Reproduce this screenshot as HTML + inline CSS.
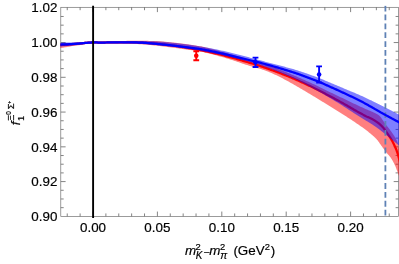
<!DOCTYPE html>
<html><head><meta charset="utf-8"><title>plot</title>
<style>
html,body{margin:0;padding:0;background:#fff;}
body{width:399px;height:264px;overflow:hidden;position:relative;font-family:"Liberation Sans",sans-serif;}
</style></head>
<body>
<svg width="399" height="264" viewBox="0 0 399 264" style="position:absolute;left:0;top:0;display:block;will-change:transform" font-family="'Liberation Sans', sans-serif" font-size="13.4" fill="#000">
<style>text{stroke:#000;stroke-width:0.18px;stroke-linejoin:round}</style>
<defs><clipPath id="pc"><rect x="60.4" y="5.4" width="338.59999999999997" height="212.6"/></clipPath></defs>
<rect width="399" height="264" fill="#fff"/>
<path d="M67.24,216.35v-2.90M67.24,7.30v2.90M80.12,216.35v-2.90M80.12,7.30v2.90M93.00,216.35v-4.80M93.00,7.30v4.80M105.88,216.35v-2.90M105.88,7.30v2.90M118.76,216.35v-2.90M118.76,7.30v2.90M131.64,216.35v-2.90M131.64,7.30v2.90M144.52,216.35v-2.90M144.52,7.30v2.90M157.40,216.35v-4.80M157.40,7.30v4.80M170.28,216.35v-2.90M170.28,7.30v2.90M183.16,216.35v-2.90M183.16,7.30v2.90M196.04,216.35v-2.90M196.04,7.30v2.90M208.92,216.35v-2.90M208.92,7.30v2.90M221.80,216.35v-4.80M221.80,7.30v4.80M234.68,216.35v-2.90M234.68,7.30v2.90M247.56,216.35v-2.90M247.56,7.30v2.90M260.44,216.35v-2.90M260.44,7.30v2.90M273.32,216.35v-2.90M273.32,7.30v2.90M286.20,216.35v-4.80M286.20,7.30v4.80M299.08,216.35v-2.90M299.08,7.30v2.90M311.96,216.35v-2.90M311.96,7.30v2.90M324.84,216.35v-2.90M324.84,7.30v2.90M337.72,216.35v-2.90M337.72,7.30v2.90M350.60,216.35v-4.80M350.60,7.30v4.80M363.48,216.35v-2.90M363.48,7.30v2.90M376.36,216.35v-2.90M376.36,7.30v2.90M389.24,216.35v-2.90M389.24,7.30v2.90M60.80,207.66h2.90M398.50,207.66h-2.90M60.80,198.97h2.90M398.50,198.97h-2.90M60.80,190.28h2.90M398.50,190.28h-2.90M60.80,181.59h4.80M398.50,181.59h-4.80M60.80,172.90h2.90M398.50,172.90h-2.90M60.80,164.21h2.90M398.50,164.21h-2.90M60.80,155.52h2.90M398.50,155.52h-2.90M60.80,146.83h4.80M398.50,146.83h-4.80M60.80,138.14h2.90M398.50,138.14h-2.90M60.80,129.45h2.90M398.50,129.45h-2.90M60.80,120.76h2.90M398.50,120.76h-2.90M60.80,112.07h4.80M398.50,112.07h-4.80M60.80,103.38h2.90M398.50,103.38h-2.90M60.80,94.69h2.90M398.50,94.69h-2.90M60.80,86.00h2.90M398.50,86.00h-2.90M60.80,77.31h4.80M398.50,77.31h-4.80M60.80,68.62h2.90M398.50,68.62h-2.90M60.80,59.93h2.90M398.50,59.93h-2.90M60.80,51.24h2.90M398.50,51.24h-2.90M60.80,42.55h4.80M398.50,42.55h-4.80M60.80,33.86h2.90M398.50,33.86h-2.90M60.80,25.17h2.90M398.50,25.17h-2.90M60.80,16.48h2.90M398.50,16.48h-2.90" stroke="#5c5c5c" stroke-width="0.75" fill="none"/>
<rect x="60.8" y="7.3" width="337.7" height="209.04999999999998" fill="none" stroke="#666" stroke-width="0.65"/>
<g clip-path="url(#pc)">
<path d="M58.00,43.58 L59.00,43.50 L60.00,43.43 L61.00,43.36 L62.00,43.29 L63.00,43.24 L64.00,43.20 L65.00,43.17 L66.00,43.14 L67.00,43.11 L68.00,43.08 L69.00,43.03 L70.00,42.98 L71.00,42.92 L72.00,42.85 L73.00,42.79 L74.00,42.73 L75.00,42.67 L76.00,42.61 L77.00,42.55 L78.00,42.49 L79.00,42.42 L80.00,42.34 L81.00,42.24 L82.00,42.14 L83.00,42.04 L84.00,41.94 L85.00,41.85 L86.00,41.76 L87.00,41.69 L88.00,41.61 L89.00,41.54 L90.00,41.47 L91.00,41.41 L92.00,41.36 L93.00,41.32 L94.00,41.30 L95.00,41.30 L96.00,41.33 L97.00,41.37 L98.00,41.40 L99.00,41.42 L100.00,41.42 L101.00,41.41 L102.00,41.39 L103.00,41.38 L104.00,41.36 L105.00,41.35 L106.00,41.33 L107.00,41.32 L108.00,41.30 L109.00,41.28 L110.00,41.27 L111.00,41.25 L112.00,41.22 L113.00,41.19 L114.00,41.17 L115.00,41.14 L116.00,41.11 L117.00,41.08 L118.00,41.05 L119.00,41.02 L120.00,41.00 L121.00,40.97 L122.00,40.95 L123.00,40.93 L124.00,40.91 L125.00,40.89 L126.00,40.88 L127.00,40.86 L128.00,40.84 L129.00,40.83 L130.00,40.82 L131.00,40.80 L132.00,40.79 L133.00,40.79 L134.00,40.78 L135.00,40.78 L136.00,40.78 L137.00,40.78 L138.00,40.78 L139.00,40.78 L140.00,40.79 L141.00,40.79 L142.00,40.80 L143.00,40.81 L144.00,40.81 L145.00,40.82 L146.00,40.84 L147.00,40.85 L148.00,40.86 L149.00,40.88 L150.00,40.89 L151.00,40.91 L152.00,40.94 L153.00,40.96 L154.00,40.99 L155.00,41.02 L156.00,41.06 L157.00,41.11 L158.00,41.16 L159.00,41.21 L160.00,41.28 L161.00,41.35 L162.00,41.43 L163.00,41.51 L164.00,41.60 L165.00,41.69 L166.00,41.79 L167.00,41.89 L168.00,41.98 L169.00,42.08 L170.00,42.19 L171.00,42.29 L172.00,42.40 L173.00,42.51 L174.00,42.62 L175.00,42.73 L176.00,42.84 L177.00,42.96 L178.00,43.08 L179.00,43.20 L180.00,43.32 L181.00,43.44 L182.00,43.57 L183.00,43.70 L184.00,43.83 L185.00,43.96 L186.00,44.10 L187.00,44.24 L188.00,44.37 L189.00,44.52 L190.00,44.66 L191.00,44.80 L192.00,44.95 L193.00,45.10 L194.00,45.25 L195.00,45.40 L196.00,45.56 L197.00,45.72 L198.00,45.88 L199.00,46.04 L200.00,46.20 L201.00,46.37 L202.00,46.56 L203.00,46.75 L204.00,46.96 L205.00,47.18 L206.00,47.40 L207.00,47.64 L208.00,47.88 L209.00,48.13 L210.00,48.39 L211.00,48.65 L212.00,48.92 L213.00,49.19 L214.00,49.46 L215.00,49.74 L216.00,50.02 L217.00,50.29 L218.00,50.57 L219.00,50.85 L220.00,51.13 L221.00,51.40 L222.00,51.67 L223.00,51.94 L224.00,52.22 L225.00,52.50 L226.00,52.78 L227.00,53.06 L228.00,53.35 L229.00,53.64 L230.00,53.93 L231.00,54.22 L232.00,54.51 L233.00,54.81 L234.00,55.10 L235.00,55.39 L236.00,55.68 L237.00,55.97 L238.00,56.25 L239.00,56.54 L240.00,56.82 L241.00,57.11 L242.00,57.40 L243.00,57.70 L244.00,58.00 L245.00,58.31 L246.00,58.61 L247.00,58.89 L248.00,59.16 L249.00,59.42 L250.00,59.67 L251.00,59.91 L252.00,60.15 L253.00,60.39 L254.00,60.63 L255.00,60.88 L256.00,61.13 L257.00,61.38 L258.00,61.64 L259.00,61.91 L260.00,62.18 L261.00,62.47 L262.00,62.77 L263.00,63.07 L264.00,63.39 L265.00,63.73 L266.00,64.08 L267.00,64.44 L268.00,64.82 L269.00,65.21 L270.00,65.60 L271.00,66.00 L272.00,66.40 L273.00,66.80 L274.00,67.20 L275.00,67.60 L276.00,68.01 L277.00,68.41 L278.00,68.82 L279.00,69.23 L280.00,69.63 L281.00,70.04 L282.00,70.46 L283.00,70.87 L284.00,71.28 L285.00,71.70 L286.00,72.11 L287.00,72.53 L288.00,72.95 L289.00,73.37 L290.00,73.79 L291.00,74.21 L292.00,74.64 L293.00,75.06 L294.00,75.49 L295.00,75.92 L296.00,76.35 L297.00,76.78 L298.00,77.21 L299.00,77.64 L300.00,78.08 L301.00,78.52 L302.00,78.95 L303.00,79.40 L304.00,79.84 L305.00,80.28 L306.00,80.73 L307.00,81.17 L308.00,81.62 L309.00,82.07 L310.00,82.53 L311.00,82.98 L312.00,83.43 L313.00,83.89 L314.00,84.35 L315.00,84.81 L316.00,85.27 L317.00,85.73 L318.00,86.20 L319.00,86.68 L320.00,87.17 L321.00,87.67 L322.00,88.17 L323.00,88.68 L324.00,89.19 L325.00,89.69 L326.00,90.20 L327.00,90.70 L328.00,91.19 L329.00,91.68 L330.00,92.16 L331.00,92.63 L332.00,93.10 L333.00,93.57 L334.00,94.05 L335.00,94.52 L336.00,95.00 L337.00,95.47 L338.00,95.95 L339.00,96.43 L340.00,96.91 L341.00,97.38 L342.00,97.86 L343.00,98.34 L344.00,98.83 L345.00,99.31 L346.00,99.79 L347.00,100.27 L348.00,100.76 L349.00,101.24 L350.00,101.73 L351.00,102.22 L352.00,102.69 L353.00,103.17 L354.00,103.64 L355.00,104.11 L356.00,104.58 L357.00,105.04 L358.00,105.50 L359.00,105.96 L360.00,106.42 L361.00,106.88 L362.00,107.33 L363.00,107.79 L364.00,108.25 L365.00,108.71 L366.00,109.16 L367.00,109.60 L368.00,110.02 L369.00,110.44 L370.00,110.86 L371.00,111.28 L372.00,111.70 L372.20,111.79 L372.40,111.87 L372.60,111.96 L372.80,112.05 L373.00,112.14 L373.20,112.23 L373.40,112.32 L373.60,112.41 L373.80,112.50 L374.00,112.59 L374.20,112.68 L374.40,112.77 L374.60,112.87 L374.80,112.96 L375.00,113.06 L375.20,113.16 L375.40,113.25 L375.60,113.35 L375.80,113.45 L376.00,113.55 L376.20,113.66 L376.40,113.76 L376.60,113.88 L376.80,113.99 L377.00,114.11 L377.20,114.23 L377.40,114.35 L377.60,114.47 L377.80,114.59 L378.00,114.72 L378.20,114.85 L378.40,114.98 L378.60,115.11 L378.80,115.25 L379.00,115.39 L379.20,115.56 L379.40,115.74 L379.60,115.93 L379.80,116.13 L380.00,116.33 L380.20,116.55 L380.40,116.77 L380.60,116.99 L380.80,117.23 L381.00,117.49 L381.20,117.78 L381.40,118.08 L381.60,118.40 L381.80,118.72 L382.00,119.04 L382.20,119.35 L382.40,119.66 L382.60,119.95 L382.80,120.24 L383.00,120.53 L383.20,120.82 L383.40,121.10 L383.60,121.39 L383.80,121.67 L384.00,121.96 L384.20,122.24 L384.40,122.52 L384.60,122.80 L384.80,123.08 L385.00,123.35 L385.20,123.62 L385.40,123.89 L385.60,124.16 L385.80,124.43 L386.00,124.69 L386.20,124.95 L386.40,125.21 L386.60,125.47 L386.80,125.73 L387.00,125.98 L387.20,126.24 L387.40,126.50 L387.60,126.75 L387.80,127.01 L388.00,127.26 L388.20,127.52 L388.40,127.78 L388.60,128.03 L388.80,128.29 L389.00,128.55 L389.20,128.82 L389.40,129.08 L389.60,129.34 L389.80,129.61 L390.00,129.88 L390.20,130.15 L390.40,130.43 L390.60,130.70 L390.80,130.98 L391.00,131.26 L391.20,131.54 L391.40,131.82 L391.60,132.09 L391.80,132.37 L392.00,132.64 L392.20,132.92 L392.40,133.20 L392.60,133.48 L392.80,133.76 L393.00,134.05 L393.20,134.34 L393.40,134.63 L393.60,134.93 L393.80,135.23 L394.00,135.54 L394.20,135.86 L394.40,136.18 L394.60,136.50 L394.80,136.84 L395.00,137.18 L395.20,137.54 L395.40,137.90 L395.60,138.27 L395.80,138.63 L396.00,139.00 L396.20,139.38 L396.40,139.77 L396.60,140.17 L396.80,140.60 L397.00,141.05 L397.20,141.54 L397.40,142.05 L397.60,142.61 L397.80,143.22 L398.00,143.87 L398.20,144.58 L398.40,145.66 L398.60,147.08 L398.80,148.31 L399.00,149.26 L399.20,150.20 L399.40,151.13 L399.60,152.04 L399.80,152.93 L400.00,153.78 L400.20,154.60 L400.40,155.39 L400.60,156.13 L400.80,156.82 L401.00,157.46 L401.20,158.04 L401.40,158.56 L401.60,159.01 L401.80,159.39 L402.00,159.70 L402.00,186.33 L401.80,185.56 L401.60,184.80 L401.40,184.05 L401.20,183.31 L401.00,182.58 L400.80,181.87 L400.60,181.16 L400.40,180.47 L400.20,179.79 L400.00,179.11 L399.80,178.46 L399.60,177.81 L399.40,177.17 L399.20,176.54 L399.00,175.93 L398.80,175.32 L398.60,174.73 L398.40,174.15 L398.20,173.58 L398.00,173.03 L397.80,172.49 L397.60,171.97 L397.40,171.44 L397.20,170.93 L397.00,170.42 L396.80,169.91 L396.60,169.40 L396.40,168.88 L396.20,168.36 L396.00,167.85 L395.80,167.34 L395.60,166.83 L395.40,166.35 L395.20,165.87 L395.00,165.42 L394.80,164.99 L394.60,164.57 L394.40,164.16 L394.20,163.75 L394.00,163.34 L393.80,162.94 L393.60,162.55 L393.40,162.16 L393.20,161.77 L393.00,161.40 L392.80,161.02 L392.60,160.66 L392.40,160.31 L392.20,159.96 L392.00,159.63 L391.80,159.30 L391.60,158.98 L391.40,158.67 L391.20,158.38 L391.00,158.09 L390.80,157.82 L390.60,157.55 L390.40,157.28 L390.20,157.03 L390.00,156.77 L389.80,156.52 L389.60,156.28 L389.40,156.04 L389.20,155.80 L389.00,155.57 L388.80,155.33 L388.60,155.10 L388.40,154.87 L388.20,154.64 L388.00,154.41 L387.80,154.18 L387.60,153.95 L387.40,153.72 L387.20,153.48 L387.00,153.25 L386.80,153.01 L386.60,152.77 L386.40,152.53 L386.20,152.28 L386.00,152.03 L385.80,151.77 L385.60,151.51 L385.40,151.25 L385.20,150.98 L385.00,150.72 L384.80,150.45 L384.60,150.17 L384.40,149.90 L384.20,149.63 L384.00,149.35 L383.80,149.07 L383.60,148.80 L383.40,148.52 L383.20,148.24 L383.00,147.96 L382.80,147.68 L382.60,147.40 L382.40,147.12 L382.20,146.84 L382.00,146.56 L381.80,146.28 L381.60,146.01 L381.40,145.73 L381.20,145.46 L381.00,145.18 L380.80,144.91 L380.60,144.62 L380.40,144.34 L380.20,144.05 L380.00,143.76 L379.80,143.47 L379.60,143.17 L379.40,142.88 L379.20,142.59 L379.00,142.30 L378.80,142.01 L378.60,141.72 L378.40,141.44 L378.20,141.17 L378.00,140.90 L377.80,140.63 L377.60,140.37 L377.40,140.12 L377.20,139.88 L377.00,139.65 L376.80,139.43 L376.60,139.22 L376.40,139.01 L376.20,138.81 L376.00,138.61 L375.80,138.41 L375.60,138.20 L375.40,138.00 L375.20,137.81 L375.00,137.61 L374.80,137.41 L374.60,137.22 L374.40,137.03 L374.20,136.84 L374.00,136.65 L373.80,136.46 L373.60,136.28 L373.40,136.09 L373.20,135.92 L373.00,135.74 L372.80,135.56 L372.60,135.39 L372.40,135.22 L372.20,135.06 L372.00,134.89 L371.00,134.08 L370.00,133.26 L369.00,132.44 L368.00,131.62 L367.00,130.83 L366.00,130.05 L365.00,129.29 L364.00,128.56 L363.00,127.83 L362.00,127.12 L361.00,126.41 L360.00,125.71 L359.00,125.01 L358.00,124.32 L357.00,123.63 L356.00,122.95 L355.00,122.27 L354.00,121.60 L353.00,120.93 L352.00,120.27 L351.00,119.60 L350.00,118.95 L349.00,118.29 L348.00,117.64 L347.00,117.00 L346.00,116.35 L345.00,115.71 L344.00,115.07 L343.00,114.43 L342.00,113.80 L341.00,113.17 L340.00,112.53 L339.00,111.91 L338.00,111.28 L337.00,110.65 L336.00,110.03 L335.00,109.40 L334.00,108.78 L333.00,108.16 L332.00,107.54 L331.00,106.92 L330.00,106.31 L329.00,105.69 L328.00,105.07 L327.00,104.46 L326.00,103.84 L325.00,103.23 L324.00,102.61 L323.00,102.00 L322.00,101.39 L321.00,100.78 L320.00,100.17 L319.00,99.56 L318.00,98.95 L317.00,98.34 L316.00,97.73 L315.00,97.12 L314.00,96.51 L313.00,95.91 L312.00,95.30 L311.00,94.70 L310.00,94.09 L309.00,93.49 L308.00,92.89 L307.00,92.29 L306.00,91.69 L305.00,91.09 L304.00,90.50 L303.00,89.90 L302.00,89.31 L301.00,88.72 L300.00,88.13 L299.00,87.55 L298.00,86.96 L297.00,86.38 L296.00,85.80 L295.00,85.23 L294.00,84.65 L293.00,84.08 L292.00,83.52 L291.00,82.96 L290.00,82.40 L289.00,81.84 L288.00,81.29 L287.00,80.75 L286.00,80.21 L285.00,79.67 L284.00,79.14 L283.00,78.61 L282.00,78.09 L281.00,77.58 L280.00,77.07 L279.00,76.57 L278.00,76.08 L277.00,75.59 L276.00,75.11 L275.00,74.64 L274.00,74.18 L273.00,73.73 L272.00,73.28 L271.00,72.84 L270.00,72.42 L269.00,72.00 L268.00,71.59 L267.00,71.19 L266.00,70.81 L265.00,70.43 L264.00,70.07 L263.00,69.72 L262.00,69.38 L261.00,69.06 L260.00,68.76 L259.00,68.46 L258.00,68.18 L257.00,67.90 L256.00,67.63 L255.00,67.36 L254.00,67.09 L253.00,66.81 L252.00,66.52 L251.00,66.23 L250.00,65.94 L249.00,65.65 L248.00,65.36 L247.00,65.05 L246.00,64.73 L245.00,64.40 L244.00,64.06 L243.00,63.72 L242.00,63.38 L241.00,63.04 L240.00,62.70 L239.00,62.37 L238.00,62.03 L237.00,61.69 L236.00,61.36 L235.00,61.03 L234.00,60.70 L233.00,60.37 L232.00,60.05 L231.00,59.73 L230.00,59.41 L229.00,59.09 L228.00,58.78 L227.00,58.47 L226.00,58.17 L225.00,57.87 L224.00,57.58 L223.00,57.29 L222.00,57.00 L221.00,56.72 L220.00,56.44 L219.00,56.16 L218.00,55.89 L217.00,55.62 L216.00,55.35 L215.00,55.08 L214.00,54.81 L213.00,54.54 L212.00,54.27 L211.00,54.00 L210.00,53.73 L209.00,53.47 L208.00,53.21 L207.00,52.96 L206.00,52.71 L205.00,52.47 L204.00,52.24 L203.00,52.02 L202.00,51.81 L201.00,51.61 L200.00,51.42 L199.00,51.23 L198.00,51.06 L197.00,50.90 L196.00,50.75 L195.00,50.61 L194.00,50.48 L193.00,50.36 L192.00,50.24 L191.00,50.12 L190.00,50.01 L189.00,49.89 L188.00,49.77 L187.00,49.64 L186.00,49.51 L185.00,49.36 L184.00,49.21 L183.00,49.06 L182.00,48.92 L181.00,48.77 L180.00,48.63 L179.00,48.49 L178.00,48.35 L177.00,48.21 L176.00,48.07 L175.00,47.93 L174.00,47.80 L173.00,47.67 L172.00,47.54 L171.00,47.41 L170.00,47.28 L169.00,47.16 L168.00,47.03 L167.00,46.91 L166.00,46.78 L165.00,46.66 L164.00,46.54 L163.00,46.42 L162.00,46.30 L161.00,46.19 L160.00,46.07 L159.00,45.96 L158.00,45.84 L157.00,45.73 L156.00,45.62 L155.00,45.51 L154.00,45.41 L153.00,45.30 L152.00,45.20 L151.00,45.10 L150.00,45.00 L149.00,44.91 L148.00,44.81 L147.00,44.72 L146.00,44.63 L145.00,44.55 L144.00,44.46 L143.00,44.39 L142.00,44.32 L141.00,44.25 L140.00,44.19 L139.00,44.13 L138.00,44.07 L137.00,44.01 L136.00,43.96 L135.00,43.90 L134.00,43.84 L133.00,43.79 L132.00,43.74 L131.00,43.70 L130.00,43.65 L129.00,43.61 L128.00,43.58 L127.00,43.55 L126.00,43.52 L125.00,43.49 L124.00,43.47 L123.00,43.45 L122.00,43.44 L121.00,43.43 L120.00,43.43 L119.00,43.44 L118.00,43.45 L117.00,43.47 L116.00,43.48 L115.00,43.50 L114.00,43.52 L113.00,43.54 L112.00,43.55 L111.00,43.56 L110.00,43.57 L109.00,43.58 L108.00,43.59 L107.00,43.59 L106.00,43.60 L105.00,43.61 L104.00,43.61 L103.00,43.62 L102.00,43.63 L101.00,43.63 L100.00,43.64 L99.00,43.64 L98.00,43.61 L97.00,43.57 L96.00,43.53 L95.00,43.51 L94.00,43.50 L93.00,43.52 L92.00,43.56 L91.00,43.63 L90.00,43.70 L89.00,43.79 L88.00,43.89 L87.00,44.00 L86.00,44.11 L85.00,44.24 L84.00,44.37 L83.00,44.52 L82.00,44.68 L81.00,44.84 L80.00,44.99 L79.00,45.13 L78.00,45.26 L77.00,45.38 L76.00,45.51 L75.00,45.63 L74.00,45.76 L73.00,45.92 L72.00,46.08 L71.00,46.27 L70.00,46.46 L69.00,46.65 L68.00,46.83 L67.00,47.00 L66.00,47.17 L65.00,47.33 L64.00,47.49 L63.00,47.65 L62.00,47.81 L61.00,47.96 L60.00,48.10 L59.00,48.24 L58.00,48.38Z" fill="#ff0000" fill-opacity="0.5"/>
<path d="M58.00,45.18 L59.00,45.10 L60.00,45.03 L61.00,44.96 L62.00,44.89 L63.00,44.83 L64.00,44.77 L65.00,44.71 L66.00,44.66 L67.00,44.60 L68.00,44.53 L69.00,44.46 L70.00,44.37 L71.00,44.27 L72.00,44.18 L73.00,44.09 L74.00,44.01 L75.00,43.93 L76.00,43.86 L77.00,43.78 L78.00,43.71 L79.00,43.63 L80.00,43.53 L81.00,43.43 L82.00,43.31 L83.00,43.20 L84.00,43.09 L85.00,42.99 L86.00,42.89 L87.00,42.81 L88.00,42.73 L89.00,42.65 L90.00,42.58 L91.00,42.52 L92.00,42.46 L93.00,42.42 L94.00,42.40 L95.00,42.41 L96.00,42.43 L97.00,42.47 L98.00,42.51 L99.00,42.54 L100.00,42.54 L101.00,42.53 L102.00,42.53 L103.00,42.52 L104.00,42.51 L105.00,42.51 L106.00,42.50 L107.00,42.49 L108.00,42.49 L109.00,42.48 L110.00,42.47 L111.00,42.46 L112.00,42.45 L113.00,42.44 L114.00,42.42 L115.00,42.40 L116.00,42.38 L117.00,42.37 L118.00,42.35 L119.00,42.33 L120.00,42.32 L121.00,42.31 L122.00,42.31 L123.00,42.31 L124.00,42.31 L125.00,42.31 L126.00,42.31 L127.00,42.32 L128.00,42.33 L129.00,42.34 L130.00,42.35 L131.00,42.36 L132.00,42.38 L133.00,42.40 L134.00,42.42 L135.00,42.44 L136.00,42.47 L137.00,42.49 L138.00,42.52 L139.00,42.55 L140.00,42.59 L141.00,42.62 L142.00,42.66 L143.00,42.71 L144.00,42.76 L145.00,42.81 L146.00,42.87 L147.00,42.94 L148.00,43.00 L149.00,43.07 L150.00,43.14 L151.00,43.21 L152.00,43.28 L153.00,43.36 L154.00,43.44 L155.00,43.53 L156.00,43.61 L157.00,43.70 L158.00,43.80 L159.00,43.89 L160.00,43.99 L161.00,44.09 L162.00,44.20 L163.00,44.31 L164.00,44.42 L165.00,44.53 L166.00,44.65 L167.00,44.77 L168.00,44.89 L169.00,45.01 L170.00,45.14 L171.00,45.27 L172.00,45.41 L173.00,45.54 L174.00,45.68 L175.00,45.82 L176.00,45.97 L177.00,46.11 L178.00,46.26 L179.00,46.42 L180.00,46.57 L181.00,46.73 L182.00,46.89 L183.00,47.05 L184.00,47.21 L185.00,47.38 L186.00,47.55 L187.00,47.71 L188.00,47.89 L189.00,48.06 L190.00,48.24 L191.00,48.41 L192.00,48.60 L193.00,48.78 L194.00,48.96 L195.00,49.15 L196.00,49.34 L197.00,49.52 L198.00,49.71 L199.00,49.90 L200.00,50.09 L201.00,50.28 L202.00,50.48 L203.00,50.68 L204.00,50.88 L205.00,51.08 L206.00,51.29 L207.00,51.50 L208.00,51.72 L209.00,51.93 L210.00,52.15 L211.00,52.38 L212.00,52.60 L213.00,52.83 L214.00,53.06 L215.00,53.30 L216.00,53.54 L217.00,53.78 L218.00,54.02 L219.00,54.27 L220.00,54.51 L221.00,54.77 L222.00,55.02 L223.00,55.27 L224.00,55.53 L225.00,55.79 L226.00,56.05 L227.00,56.32 L228.00,56.58 L229.00,56.85 L230.00,57.12 L231.00,57.40 L232.00,57.67 L233.00,57.95 L234.00,58.23 L235.00,58.51 L236.00,58.79 L237.00,59.07 L238.00,59.36 L239.00,59.64 L240.00,59.93 L241.00,60.22 L242.00,60.51 L243.00,60.81 L244.00,61.10 L245.00,61.40 L246.00,61.69 L247.00,61.99 L248.00,62.29 L249.00,62.59 L250.00,62.89 L251.00,63.19 L252.00,63.49 L253.00,63.80 L254.00,64.11 L255.00,64.42 L256.00,64.73 L257.00,65.05 L258.00,65.37 L259.00,65.69 L260.00,66.02 L261.00,66.35 L262.00,66.68 L263.00,67.02 L264.00,67.36 L265.00,67.71 L266.00,68.06 L267.00,68.40 L268.00,68.76 L269.00,69.11 L270.00,69.47 L271.00,69.83 L272.00,70.19 L273.00,70.55 L274.00,70.92 L275.00,71.29 L276.00,71.66 L277.00,72.03 L278.00,72.41 L279.00,72.79 L280.00,73.17 L281.00,73.56 L282.00,73.94 L283.00,74.33 L284.00,74.72 L285.00,75.12 L286.00,75.52 L287.00,75.92 L288.00,76.32 L289.00,76.73 L290.00,77.15 L291.00,77.56 L292.00,77.99 L293.00,78.41 L294.00,78.84 L295.00,79.27 L296.00,79.71 L297.00,80.14 L298.00,80.58 L299.00,81.03 L300.00,81.47 L301.00,81.92 L302.00,82.38 L303.00,82.83 L304.00,83.29 L305.00,83.75 L306.00,84.21 L307.00,84.68 L308.00,85.15 L309.00,85.62 L310.00,86.10 L311.00,86.58 L312.00,87.07 L313.00,87.56 L314.00,88.05 L315.00,88.55 L316.00,89.04 L317.00,89.54 L318.00,90.05 L319.00,90.55 L320.00,91.06 L321.00,91.57 L322.00,92.08 L323.00,92.59 L324.00,93.11 L325.00,93.62 L326.00,94.14 L327.00,94.66 L328.00,95.18 L329.00,95.71 L330.00,96.23 L331.00,96.76 L332.00,97.29 L333.00,97.83 L334.00,98.36 L335.00,98.90 L336.00,99.44 L337.00,99.99 L338.00,100.53 L339.00,101.08 L340.00,101.64 L341.00,102.19 L342.00,102.75 L343.00,103.31 L344.00,103.87 L345.00,104.44 L346.00,105.01 L347.00,105.58 L348.00,106.16 L349.00,106.74 L350.00,107.33 L351.00,107.91 L352.00,108.50 L353.00,109.08 L354.00,109.67 L355.00,110.24 L356.00,110.81 L357.00,111.37 L358.00,111.92 L359.00,112.47 L360.00,113.02 L361.00,113.56 L362.00,114.10 L363.00,114.63 L364.00,115.17 L365.00,115.70 L366.00,116.21 L367.00,116.67 L368.00,117.10 L369.00,117.52 L370.00,117.95 L371.00,118.42 L372.00,118.94 L372.20,119.05 L372.40,119.16 L372.60,119.28 L372.80,119.39 L373.00,119.51 L373.20,119.63 L373.40,119.74 L373.60,119.87 L373.80,119.99 L374.00,120.11 L374.20,120.23 L374.40,120.36 L374.60,120.48 L374.80,120.61 L375.00,120.74 L375.20,120.87 L375.40,121.00 L375.60,121.13 L375.80,121.27 L376.00,121.40 L376.20,121.54 L376.40,121.67 L376.60,121.81 L376.80,121.95 L377.00,122.09 L377.20,122.23 L377.40,122.37 L377.60,122.51 L377.80,122.65 L378.00,122.80 L378.20,122.94 L378.40,123.10 L378.60,123.25 L378.80,123.41 L379.00,123.57 L379.20,123.73 L379.40,123.90 L379.60,124.07 L379.80,124.25 L380.00,124.43 L380.20,124.61 L380.40,124.79 L380.60,124.98 L380.80,125.17 L381.00,125.36 L381.20,125.55 L381.40,125.75 L381.60,125.95 L381.80,126.15 L382.00,126.35 L382.20,126.55 L382.40,126.76 L382.60,126.97 L382.80,127.18 L383.00,127.41 L383.20,127.65 L383.40,127.89 L383.60,128.15 L383.80,128.41 L384.00,128.68 L384.20,128.95 L384.40,129.23 L384.60,129.51 L384.80,129.79 L385.00,130.07 L385.20,130.35 L385.40,130.62 L385.60,130.90 L385.80,131.18 L386.00,131.46 L386.20,131.75 L386.40,132.03 L386.60,132.32 L386.80,132.61 L387.00,132.91 L387.20,133.20 L387.40,133.50 L387.60,133.79 L387.80,134.09 L388.00,134.39 L388.20,134.69 L388.40,134.99 L388.60,135.29 L388.80,135.59 L389.00,135.89 L389.20,136.19 L389.40,136.48 L389.60,136.78 L389.80,137.08 L390.00,137.38 L390.20,137.68 L390.40,137.99 L390.60,138.29 L390.80,138.61 L391.00,138.92 L391.20,139.25 L391.40,139.58 L391.60,139.91 L391.80,140.26 L392.00,140.61 L392.20,140.97 L392.40,141.34 L392.60,141.71 L392.80,142.10 L393.00,142.49 L393.20,142.88 L393.40,143.28 L393.60,143.69 L393.80,144.10 L394.00,144.52 L394.20,144.94 L394.40,145.36 L394.60,145.79 L394.80,146.22 L395.00,146.66 L395.20,147.10 L395.40,147.55 L395.60,148.00 L395.80,148.47 L396.00,148.95 L396.20,149.44 L396.40,149.95 L396.60,150.48 L396.80,151.03 L397.00,151.61 L397.20,152.21 L397.40,152.83 L397.60,153.47 L397.80,154.12 L398.00,154.78 L398.20,155.46 L398.40,156.16 L398.60,156.88 L398.80,157.62 L399.00,158.36 L399.20,159.11 L399.40,159.87 L399.60,160.64 L399.80,161.42 L400.00,162.21 L400.20,163.01 L400.40,163.81 L400.60,164.63 L400.80,165.46 L401.00,166.30 L401.20,167.16 L401.40,168.02 L401.60,168.90 L401.80,169.79 L402.00,170.69" stroke="#ff0000" stroke-width="2.25" fill="none" stroke-linejoin="round"/>
<path d="M58.00,42.88 L59.00,42.80 L60.00,42.73 L61.00,42.66 L62.00,42.60 L63.00,42.55 L64.00,42.53 L65.00,42.52 L66.00,42.51 L67.00,42.51 L68.00,42.51 L69.00,42.50 L70.00,42.48 L71.00,42.45 L72.00,42.43 L73.00,42.40 L74.00,42.38 L75.00,42.36 L76.00,42.33 L77.00,42.31 L78.00,42.28 L79.00,42.24 L80.00,42.18 L81.00,42.11 L82.00,42.03 L83.00,41.95 L84.00,41.88 L85.00,41.81 L86.00,41.76 L87.00,41.71 L88.00,41.66 L89.00,41.61 L90.00,41.56 L91.00,41.51 L92.00,41.46 L93.00,41.42 L94.00,41.40 L95.00,41.41 L96.00,41.44 L97.00,41.48 L98.00,41.51 L99.00,41.54 L100.00,41.54 L101.00,41.53 L102.00,41.52 L103.00,41.51 L104.00,41.50 L105.00,41.49 L106.00,41.48 L107.00,41.47 L108.00,41.46 L109.00,41.45 L110.00,41.44 L111.00,41.42 L112.00,41.40 L113.00,41.38 L114.00,41.36 L115.00,41.34 L116.00,41.31 L117.00,41.29 L118.00,41.27 L119.00,41.25 L120.00,41.22 L121.00,41.20 L122.00,41.18 L123.00,41.17 L124.00,41.15 L125.00,41.13 L126.00,41.11 L127.00,41.10 L128.00,41.08 L129.00,41.07 L130.00,41.05 L131.00,41.04 L132.00,41.03 L133.00,41.02 L134.00,41.02 L135.00,41.01 L136.00,41.01 L137.00,41.01 L138.00,41.01 L139.00,41.02 L140.00,41.02 L141.00,41.03 L142.00,41.05 L143.00,41.06 L144.00,41.07 L145.00,41.09 L146.00,41.11 L147.00,41.14 L148.00,41.16 L149.00,41.19 L150.00,41.21 L151.00,41.24 L152.00,41.27 L153.00,41.31 L154.00,41.35 L155.00,41.39 L156.00,41.43 L157.00,41.48 L158.00,41.53 L159.00,41.59 L160.00,41.65 L161.00,41.72 L162.00,41.80 L163.00,41.87 L164.00,41.96 L165.00,42.04 L166.00,42.13 L167.00,42.22 L168.00,42.31 L169.00,42.40 L170.00,42.50 L171.00,42.59 L172.00,42.69 L173.00,42.80 L174.00,42.90 L175.00,43.01 L176.00,43.11 L177.00,43.22 L178.00,43.34 L179.00,43.45 L180.00,43.57 L181.00,43.69 L182.00,43.81 L183.00,43.93 L184.00,44.06 L185.00,44.18 L186.00,44.31 L187.00,44.45 L188.00,44.58 L189.00,44.72 L190.00,44.86 L191.00,45.00 L192.00,45.15 L193.00,45.30 L194.00,45.45 L195.00,45.60 L196.00,45.76 L197.00,45.92 L198.00,46.08 L199.00,46.24 L200.00,46.40 L201.00,46.57 L202.00,46.74 L203.00,46.91 L204.00,47.08 L205.00,47.26 L206.00,47.44 L207.00,47.62 L208.00,47.80 L209.00,47.99 L210.00,48.18 L211.00,48.37 L212.00,48.56 L213.00,48.76 L214.00,48.96 L215.00,49.16 L216.00,49.36 L217.00,49.56 L218.00,49.77 L219.00,49.98 L220.00,50.19 L221.00,50.41 L222.00,50.63 L223.00,50.85 L224.00,51.07 L225.00,51.30 L226.00,51.53 L227.00,51.76 L228.00,52.00 L229.00,52.24 L230.00,52.49 L231.00,52.73 L232.00,52.98 L233.00,53.23 L234.00,53.48 L235.00,53.74 L236.00,53.99 L237.00,54.25 L238.00,54.51 L239.00,54.77 L240.00,55.03 L241.00,55.29 L242.00,55.55 L243.00,55.80 L244.00,56.06 L245.00,56.32 L246.00,56.58 L247.00,56.84 L248.00,57.10 L249.00,57.37 L250.00,57.63 L251.00,57.89 L252.00,58.16 L253.00,58.43 L254.00,58.69 L255.00,58.96 L256.00,59.23 L257.00,59.50 L258.00,59.77 L259.00,60.04 L260.00,60.31 L261.00,60.57 L262.00,60.84 L263.00,61.11 L264.00,61.37 L265.00,61.63 L266.00,61.89 L267.00,62.15 L268.00,62.41 L269.00,62.66 L270.00,62.92 L271.00,63.17 L272.00,63.43 L273.00,63.68 L274.00,63.94 L275.00,64.19 L276.00,64.45 L277.00,64.71 L278.00,64.97 L279.00,65.23 L280.00,65.49 L281.00,65.76 L282.00,66.03 L283.00,66.30 L284.00,66.57 L285.00,66.85 L286.00,67.13 L287.00,67.40 L288.00,67.68 L289.00,67.95 L290.00,68.23 L291.00,68.50 L292.00,68.78 L293.00,69.06 L294.00,69.35 L295.00,69.64 L296.00,69.94 L297.00,70.24 L298.00,70.56 L299.00,70.88 L300.00,71.21 L301.00,71.55 L302.00,71.89 L303.00,72.24 L304.00,72.58 L305.00,72.93 L306.00,73.27 L307.00,73.62 L308.00,73.97 L309.00,74.33 L310.00,74.68 L311.00,75.04 L312.00,75.40 L313.00,75.76 L314.00,76.12 L315.00,76.49 L316.00,76.85 L317.00,77.22 L318.00,77.59 L319.00,77.98 L320.00,78.38 L321.00,78.78 L322.00,79.20 L323.00,79.61 L324.00,80.04 L325.00,80.46 L326.00,80.89 L327.00,81.31 L328.00,81.74 L329.00,82.16 L330.00,82.57 L331.00,82.99 L332.00,83.40 L333.00,83.82 L334.00,84.24 L335.00,84.66 L336.00,85.08 L337.00,85.50 L338.00,85.92 L339.00,86.35 L340.00,86.77 L341.00,87.20 L342.00,87.62 L343.00,88.04 L344.00,88.47 L345.00,88.89 L346.00,89.31 L347.00,89.73 L348.00,90.14 L349.00,90.55 L350.00,90.97 L351.00,91.38 L352.00,91.79 L353.00,92.20 L354.00,92.62 L355.00,93.04 L356.00,93.46 L357.00,93.89 L358.00,94.32 L359.00,94.75 L360.00,95.20 L361.00,95.65 L362.00,96.10 L363.00,96.56 L364.00,97.03 L365.00,97.50 L366.00,97.97 L367.00,98.44 L368.00,98.92 L369.00,99.40 L370.00,99.89 L371.00,100.37 L372.00,100.86 L372.20,100.96 L372.40,101.05 L372.60,101.15 L372.80,101.25 L373.00,101.35 L373.20,101.44 L373.40,101.54 L373.60,101.64 L373.80,101.74 L374.00,101.83 L374.20,101.93 L374.40,102.03 L374.60,102.13 L374.80,102.23 L375.00,102.32 L375.20,102.42 L375.40,102.52 L375.60,102.62 L375.80,102.71 L376.00,102.81 L376.20,102.91 L376.40,103.01 L376.60,103.11 L376.80,103.20 L377.00,103.30 L377.20,103.40 L377.40,103.50 L377.60,103.60 L377.80,103.70 L378.00,103.80 L378.20,103.89 L378.40,103.99 L378.60,104.09 L378.80,104.19 L379.00,104.29 L379.20,104.39 L379.40,104.49 L379.60,104.59 L379.80,104.69 L380.00,104.79 L380.20,104.89 L380.40,104.99 L380.60,105.09 L380.80,105.19 L381.00,105.29 L381.20,105.39 L381.40,105.49 L381.60,105.59 L381.80,105.69 L382.00,105.79 L382.20,105.89 L382.40,105.99 L382.60,106.09 L382.80,106.19 L383.00,106.29 L383.20,106.39 L383.40,106.50 L383.60,106.60 L383.80,106.70 L384.00,106.80 L384.20,106.90 L384.40,107.00 L384.60,107.10 L384.80,107.21 L385.00,107.31 L385.20,107.41 L385.40,107.51 L385.60,107.61 L385.80,107.72 L386.00,107.82 L386.20,107.92 L386.40,108.02 L386.60,108.13 L386.80,108.23 L387.00,108.33 L387.20,108.43 L387.40,108.54 L387.60,108.64 L387.80,108.74 L388.00,108.85 L388.20,108.95 L388.40,109.05 L388.60,109.16 L388.80,109.26 L389.00,109.36 L389.20,109.47 L389.40,109.57 L389.60,109.67 L389.80,109.78 L390.00,109.88 L390.20,109.99 L390.40,110.09 L390.60,110.20 L390.80,110.30 L391.00,110.40 L391.20,110.51 L391.40,110.61 L391.60,110.72 L391.80,110.82 L392.00,110.93 L392.20,111.03 L392.40,111.14 L392.60,111.24 L392.80,111.35 L393.00,111.45 L393.20,111.56 L393.40,111.67 L393.60,111.77 L393.80,111.88 L394.00,111.98 L394.20,112.09 L394.40,112.20 L394.60,112.30 L394.80,112.41 L395.00,112.51 L395.20,112.62 L395.40,112.73 L395.60,112.83 L395.80,112.94 L396.00,113.05 L396.20,113.15 L396.40,113.26 L396.60,113.37 L396.80,113.48 L397.00,113.58 L397.20,113.69 L397.40,113.80 L397.60,113.90 L397.80,114.01 L398.00,114.12 L398.20,114.23 L398.40,114.34 L398.60,114.44 L398.80,114.55 L399.00,114.66 L399.20,114.77 L399.40,114.87 L399.60,114.98 L399.80,115.09 L400.00,115.20 L400.20,115.30 L400.40,115.41 L400.60,115.52 L400.80,115.63 L401.00,115.73 L401.20,115.84 L401.40,115.95 L401.60,116.06 L401.80,116.17 L402.00,116.27 L402.00,148.11 L401.80,147.94 L401.60,147.76 L401.40,147.59 L401.20,147.42 L401.00,147.24 L400.80,147.07 L400.60,146.90 L400.40,146.73 L400.20,146.56 L400.00,146.38 L399.80,146.21 L399.60,146.04 L399.40,145.87 L399.20,145.70 L399.00,145.53 L398.80,145.36 L398.60,145.19 L398.40,145.01 L398.20,144.84 L398.00,144.67 L397.80,144.50 L397.60,144.33 L397.40,144.16 L397.20,143.99 L397.00,143.82 L396.80,143.65 L396.60,143.49 L396.40,143.32 L396.20,143.15 L396.00,142.98 L395.80,142.81 L395.60,142.64 L395.40,142.47 L395.20,142.30 L395.00,142.14 L394.80,141.97 L394.60,141.80 L394.40,141.63 L394.20,141.47 L394.00,141.30 L393.80,141.13 L393.60,140.96 L393.40,140.80 L393.20,140.63 L393.00,140.46 L392.80,140.30 L392.60,140.13 L392.40,139.97 L392.20,139.80 L392.00,139.63 L391.80,139.47 L391.60,139.30 L391.40,139.14 L391.20,138.97 L391.00,138.81 L390.80,138.64 L390.60,138.48 L390.40,138.31 L390.20,138.15 L390.00,137.98 L389.80,137.82 L389.60,137.66 L389.40,137.49 L389.20,137.33 L389.00,137.16 L388.80,137.00 L388.60,136.84 L388.40,136.67 L388.20,136.51 L388.00,136.35 L387.80,136.19 L387.60,136.02 L387.40,135.86 L387.20,135.70 L387.00,135.54 L386.80,135.38 L386.60,135.21 L386.40,135.05 L386.20,134.89 L386.00,134.73 L385.80,134.57 L385.60,134.41 L385.40,134.25 L385.20,134.09 L385.00,133.93 L384.80,133.76 L384.60,133.60 L384.40,133.44 L384.20,133.28 L384.00,133.12 L383.80,132.97 L383.60,132.81 L383.40,132.65 L383.20,132.49 L383.00,132.33 L382.80,132.17 L382.60,132.01 L382.40,131.85 L382.20,131.69 L382.00,131.54 L381.80,131.38 L381.60,131.22 L381.40,131.06 L381.20,130.90 L381.00,130.75 L380.80,130.59 L380.60,130.43 L380.40,130.27 L380.20,130.12 L380.00,129.96 L379.80,129.81 L379.60,129.65 L379.40,129.50 L379.20,129.34 L379.00,129.19 L378.80,129.04 L378.60,128.89 L378.40,128.74 L378.20,128.60 L378.00,128.45 L377.80,128.30 L377.60,128.16 L377.40,128.01 L377.20,127.87 L377.00,127.73 L376.80,127.58 L376.60,127.44 L376.40,127.30 L376.20,127.16 L376.00,127.02 L375.80,126.88 L375.60,126.75 L375.40,126.61 L375.20,126.47 L375.00,126.33 L374.80,126.20 L374.60,126.06 L374.40,125.93 L374.20,125.79 L374.00,125.66 L373.80,125.52 L373.60,125.39 L373.40,125.25 L373.20,125.12 L373.00,124.98 L372.80,124.85 L372.60,124.72 L372.40,124.58 L372.20,124.45 L372.00,124.32 L371.00,123.66 L370.00,123.04 L369.00,122.44 L368.00,121.85 L367.00,121.26 L366.00,120.66 L365.00,120.04 L364.00,119.40 L363.00,118.77 L362.00,118.15 L361.00,117.52 L360.00,116.90 L359.00,116.28 L358.00,115.66 L357.00,115.04 L356.00,114.41 L355.00,113.78 L354.00,113.15 L353.00,112.51 L352.00,111.87 L351.00,111.22 L350.00,110.56 L349.00,109.90 L348.00,109.24 L347.00,108.59 L346.00,107.94 L345.00,107.29 L344.00,106.65 L343.00,106.01 L342.00,105.37 L341.00,104.74 L340.00,104.11 L339.00,103.49 L338.00,102.86 L337.00,102.24 L336.00,101.63 L335.00,101.02 L334.00,100.41 L333.00,99.80 L332.00,99.20 L331.00,98.60 L330.00,98.01 L329.00,97.42 L328.00,96.83 L327.00,96.25 L326.00,95.66 L325.00,95.09 L324.00,94.51 L323.00,93.94 L322.00,93.37 L321.00,92.80 L320.00,92.23 L319.00,91.67 L318.00,91.11 L317.00,90.55 L316.00,89.99 L315.00,89.44 L314.00,88.89 L313.00,88.34 L312.00,87.80 L311.00,87.26 L310.00,86.72 L309.00,86.18 L308.00,85.65 L307.00,85.12 L306.00,84.60 L305.00,84.08 L304.00,83.56 L303.00,83.05 L302.00,82.54 L301.00,82.03 L300.00,81.53 L299.00,81.04 L298.00,80.54 L297.00,80.06 L296.00,79.57 L295.00,79.09 L294.00,78.62 L293.00,78.15 L292.00,77.69 L291.00,77.23 L290.00,76.77 L289.00,76.32 L288.00,75.88 L287.00,75.44 L286.00,75.01 L285.00,74.58 L284.00,74.16 L283.00,73.74 L282.00,73.33 L281.00,72.91 L280.00,72.51 L279.00,72.11 L278.00,71.71 L277.00,71.31 L276.00,70.92 L275.00,70.54 L274.00,70.16 L273.00,69.78 L272.00,69.40 L271.00,69.03 L270.00,68.67 L269.00,68.30 L268.00,67.95 L267.00,67.59 L266.00,67.24 L265.00,66.89 L264.00,66.55 L263.00,66.20 L262.00,65.85 L261.00,65.51 L260.00,65.17 L259.00,64.83 L258.00,64.50 L257.00,64.17 L256.00,63.85 L255.00,63.54 L254.00,63.23 L253.00,62.92 L252.00,62.63 L251.00,62.34 L250.00,62.06 L249.00,61.78 L248.00,61.51 L247.00,61.24 L246.00,60.98 L245.00,60.73 L244.00,60.47 L243.00,60.21 L242.00,59.96 L241.00,59.71 L240.00,59.46 L239.00,59.21 L238.00,58.97 L237.00,58.72 L236.00,58.47 L235.00,58.23 L234.00,57.99 L233.00,57.74 L232.00,57.50 L231.00,57.26 L230.00,57.03 L229.00,56.79 L228.00,56.56 L227.00,56.32 L226.00,56.09 L225.00,55.86 L224.00,55.63 L223.00,55.41 L222.00,55.18 L221.00,54.96 L220.00,54.74 L219.00,54.52 L218.00,54.31 L217.00,54.09 L216.00,53.88 L215.00,53.67 L214.00,53.46 L213.00,53.25 L212.00,53.05 L211.00,52.85 L210.00,52.65 L209.00,52.45 L208.00,52.26 L207.00,52.07 L206.00,51.88 L205.00,51.69 L204.00,51.51 L203.00,51.33 L202.00,51.15 L201.00,50.98 L200.00,50.80 L199.00,50.63 L198.00,50.46 L197.00,50.30 L196.00,50.13 L195.00,49.97 L194.00,49.81 L193.00,49.65 L192.00,49.49 L191.00,49.34 L190.00,49.19 L189.00,49.03 L188.00,48.89 L187.00,48.74 L186.00,48.59 L185.00,48.45 L184.00,48.31 L183.00,48.17 L182.00,48.03 L181.00,47.90 L180.00,47.76 L179.00,47.63 L178.00,47.50 L177.00,47.37 L176.00,47.24 L175.00,47.12 L174.00,47.00 L173.00,46.88 L172.00,46.76 L171.00,46.64 L170.00,46.53 L169.00,46.41 L168.00,46.30 L167.00,46.19 L166.00,46.08 L165.00,45.98 L164.00,45.87 L163.00,45.77 L162.00,45.67 L161.00,45.57 L160.00,45.48 L159.00,45.38 L158.00,45.29 L157.00,45.20 L156.00,45.11 L155.00,45.02 L154.00,44.93 L153.00,44.85 L152.00,44.77 L151.00,44.69 L150.00,44.61 L149.00,44.53 L148.00,44.46 L147.00,44.38 L146.00,44.31 L145.00,44.24 L144.00,44.18 L143.00,44.11 L142.00,44.06 L141.00,44.00 L140.00,43.95 L139.00,43.91 L138.00,43.86 L137.00,43.82 L136.00,43.77 L135.00,43.73 L134.00,43.68 L133.00,43.64 L132.00,43.60 L131.00,43.57 L130.00,43.53 L129.00,43.50 L128.00,43.48 L127.00,43.45 L126.00,43.43 L125.00,43.41 L124.00,43.39 L123.00,43.38 L122.00,43.37 L121.00,43.36 L120.00,43.37 L119.00,43.37 L118.00,43.38 L117.00,43.40 L116.00,43.42 L115.00,43.43 L114.00,43.45 L113.00,43.47 L112.00,43.48 L111.00,43.49 L110.00,43.50 L109.00,43.51 L108.00,43.51 L107.00,43.52 L106.00,43.52 L105.00,43.53 L104.00,43.53 L103.00,43.54 L102.00,43.55 L101.00,43.55 L100.00,43.56 L99.00,43.55 L98.00,43.53 L97.00,43.49 L96.00,43.45 L95.00,43.42 L94.00,43.41 L93.00,43.43 L92.00,43.47 L91.00,43.53 L90.00,43.61 L89.00,43.69 L88.00,43.78 L87.00,43.87 L86.00,43.97 L85.00,44.08 L84.00,44.20 L83.00,44.33 L82.00,44.47 L81.00,44.60 L80.00,44.73 L79.00,44.85 L78.00,44.95 L77.00,45.05 L76.00,45.14 L75.00,45.23 L74.00,45.33 L73.00,45.43 L72.00,45.54 L71.00,45.65 L70.00,45.76 L69.00,45.87 L68.00,45.96 L67.00,46.05 L66.00,46.12 L65.00,46.19 L64.00,46.25 L63.00,46.32 L62.00,46.39 L61.00,46.46 L60.00,46.53 L59.00,46.60 L58.00,46.68Z" fill="#0000ff" fill-opacity="0.5"/>
<path d="M385.4,5.7V218" stroke="#5e81b5" stroke-width="1.8" stroke-dasharray="5.8 3.07" fill="none"/>
<path d="M58.00,44.78 L59.00,44.70 L60.00,44.63 L61.00,44.56 L62.00,44.49 L63.00,44.44 L64.00,44.40 L65.00,44.36 L66.00,44.33 L67.00,44.30 L68.00,44.27 L69.00,44.22 L70.00,44.16 L71.00,44.09 L72.00,44.03 L73.00,43.96 L74.00,43.90 L75.00,43.83 L76.00,43.77 L77.00,43.70 L78.00,43.64 L79.00,43.56 L80.00,43.47 L81.00,43.38 L82.00,43.27 L83.00,43.16 L84.00,43.06 L85.00,42.96 L86.00,42.88 L87.00,42.80 L88.00,42.72 L89.00,42.65 L90.00,42.58 L91.00,42.51 L92.00,42.46 L93.00,42.42 L94.00,42.40 L95.00,42.41 L96.00,42.43 L97.00,42.47 L98.00,42.51 L99.00,42.54 L100.00,42.54 L101.00,42.53 L102.00,42.53 L103.00,42.52 L104.00,42.51 L105.00,42.51 L106.00,42.50 L107.00,42.49 L108.00,42.49 L109.00,42.48 L110.00,42.47 L111.00,42.46 L112.00,42.45 L113.00,42.44 L114.00,42.42 L115.00,42.40 L116.00,42.38 L117.00,42.37 L118.00,42.35 L119.00,42.33 L120.00,42.32 L121.00,42.31 L122.00,42.31 L123.00,42.31 L124.00,42.31 L125.00,42.31 L126.00,42.31 L127.00,42.32 L128.00,42.33 L129.00,42.34 L130.00,42.35 L131.00,42.36 L132.00,42.38 L133.00,42.40 L134.00,42.42 L135.00,42.44 L136.00,42.47 L137.00,42.49 L138.00,42.52 L139.00,42.55 L140.00,42.59 L141.00,42.62 L142.00,42.67 L143.00,42.72 L144.00,42.78 L145.00,42.85 L146.00,42.93 L147.00,43.00 L148.00,43.08 L149.00,43.17 L150.00,43.26 L151.00,43.35 L152.00,43.44 L153.00,43.53 L154.00,43.63 L155.00,43.73 L156.00,43.83 L157.00,43.92 L158.00,44.02 L159.00,44.12 L160.00,44.22 L161.00,44.32 L162.00,44.42 L163.00,44.51 L164.00,44.61 L165.00,44.71 L166.00,44.81 L167.00,44.91 L168.00,45.02 L169.00,45.12 L170.00,45.23 L171.00,45.34 L172.00,45.45 L173.00,45.56 L174.00,45.68 L175.00,45.79 L176.00,45.91 L177.00,46.03 L178.00,46.15 L179.00,46.27 L180.00,46.39 L181.00,46.52 L182.00,46.64 L183.00,46.77 L184.00,46.90 L185.00,47.03 L186.00,47.16 L187.00,47.28 L188.00,47.41 L189.00,47.53 L190.00,47.65 L191.00,47.78 L192.00,47.90 L193.00,48.03 L194.00,48.15 L195.00,48.28 L196.00,48.42 L197.00,48.55 L198.00,48.70 L199.00,48.85 L200.00,49.00 L201.00,49.16 L202.00,49.33 L203.00,49.51 L204.00,49.68 L205.00,49.87 L206.00,50.06 L207.00,50.25 L208.00,50.44 L209.00,50.64 L210.00,50.85 L211.00,51.05 L212.00,51.26 L213.00,51.48 L214.00,51.69 L215.00,51.91 L216.00,52.13 L217.00,52.35 L218.00,52.57 L219.00,52.79 L220.00,53.01 L221.00,53.24 L222.00,53.46 L223.00,53.68 L224.00,53.91 L225.00,54.14 L226.00,54.37 L227.00,54.60 L228.00,54.84 L229.00,55.07 L230.00,55.32 L231.00,55.56 L232.00,55.80 L233.00,56.05 L234.00,56.29 L235.00,56.54 L236.00,56.79 L237.00,57.04 L238.00,57.29 L239.00,57.54 L240.00,57.79 L241.00,58.04 L242.00,58.29 L243.00,58.54 L244.00,58.78 L245.00,59.03 L246.00,59.28 L247.00,59.52 L248.00,59.76 L249.00,60.01 L250.00,60.25 L251.00,60.49 L252.00,60.73 L253.00,60.97 L254.00,61.21 L255.00,61.45 L256.00,61.70 L257.00,61.94 L258.00,62.19 L259.00,62.44 L260.00,62.70 L261.00,62.96 L262.00,63.22 L263.00,63.48 L264.00,63.75 L265.00,64.02 L266.00,64.29 L267.00,64.56 L268.00,64.83 L269.00,65.11 L270.00,65.39 L271.00,65.67 L272.00,65.95 L273.00,66.24 L274.00,66.53 L275.00,66.81 L276.00,67.10 L277.00,67.40 L278.00,67.69 L279.00,67.99 L280.00,68.29 L281.00,68.59 L282.00,68.89 L283.00,69.19 L284.00,69.50 L285.00,69.81 L286.00,70.11 L287.00,70.42 L288.00,70.73 L289.00,71.04 L290.00,71.35 L291.00,71.66 L292.00,71.97 L293.00,72.29 L294.00,72.61 L295.00,72.94 L296.00,73.27 L297.00,73.60 L298.00,73.94 L299.00,74.29 L300.00,74.64 L301.00,75.00 L302.00,75.36 L303.00,75.73 L304.00,76.09 L305.00,76.46 L306.00,76.83 L307.00,77.20 L308.00,77.57 L309.00,77.95 L310.00,78.33 L311.00,78.71 L312.00,79.09 L313.00,79.47 L314.00,79.86 L315.00,80.24 L316.00,80.63 L317.00,81.03 L318.00,81.42 L319.00,81.84 L320.00,82.26 L321.00,82.68 L322.00,83.12 L323.00,83.56 L324.00,84.01 L325.00,84.46 L326.00,84.91 L327.00,85.36 L328.00,85.81 L329.00,86.26 L330.00,86.71 L331.00,87.16 L332.00,87.60 L333.00,88.05 L334.00,88.50 L335.00,88.95 L336.00,89.40 L337.00,89.86 L338.00,90.31 L339.00,90.77 L340.00,91.23 L341.00,91.69 L342.00,92.15 L343.00,92.62 L344.00,93.08 L345.00,93.55 L346.00,94.02 L347.00,94.48 L348.00,94.95 L349.00,95.42 L350.00,95.90 L351.00,96.37 L352.00,96.85 L353.00,97.32 L354.00,97.80 L355.00,98.29 L356.00,98.78 L357.00,99.27 L358.00,99.76 L359.00,100.26 L360.00,100.76 L361.00,101.27 L362.00,101.80 L363.00,102.33 L364.00,102.88 L365.00,103.42 L366.00,103.98 L367.00,104.53 L368.00,105.09 L369.00,105.65 L370.00,106.21 L371.00,106.76 L372.00,107.33 L372.20,107.44 L372.40,107.55 L372.60,107.67 L372.80,107.78 L373.00,107.90 L373.20,108.01 L373.40,108.12 L373.60,108.24 L373.80,108.35 L374.00,108.47 L374.20,108.58 L374.40,108.70 L374.60,108.82 L374.80,108.93 L375.00,109.05 L375.20,109.16 L375.40,109.28 L375.60,109.39 L375.80,109.51 L376.00,109.63 L376.20,109.74 L376.40,109.86 L376.60,109.97 L376.80,110.09 L377.00,110.20 L377.20,110.32 L377.40,110.44 L377.60,110.55 L377.80,110.67 L378.00,110.78 L378.20,110.90 L378.40,111.01 L378.60,111.13 L378.80,111.25 L379.00,111.36 L379.20,111.48 L379.40,111.59 L379.60,111.71 L379.80,111.82 L380.00,111.94 L380.20,112.05 L380.40,112.16 L380.60,112.28 L380.80,112.39 L381.00,112.51 L381.20,112.62 L381.40,112.73 L381.60,112.85 L381.80,112.96 L382.00,113.07 L382.20,113.18 L382.40,113.30 L382.60,113.41 L382.80,113.52 L383.00,113.63 L383.20,113.74 L383.40,113.85 L383.60,113.96 L383.80,114.07 L384.00,114.18 L384.20,114.29 L384.40,114.40 L384.60,114.51 L384.80,114.62 L385.00,114.72 L385.20,114.83 L385.40,114.94 L385.60,115.05 L385.80,115.15 L386.00,115.26 L386.20,115.37 L386.40,115.48 L386.60,115.59 L386.80,115.69 L387.00,115.80 L387.20,115.91 L387.40,116.02 L387.60,116.13 L387.80,116.23 L388.00,116.34 L388.20,116.45 L388.40,116.56 L388.60,116.67 L388.80,116.78 L389.00,116.89 L389.20,116.99 L389.40,117.10 L389.60,117.21 L389.80,117.32 L390.00,117.43 L390.20,117.54 L390.40,117.65 L390.60,117.75 L390.80,117.86 L391.00,117.97 L391.20,118.08 L391.40,118.19 L391.60,118.30 L391.80,118.40 L392.00,118.51 L392.20,118.62 L392.40,118.73 L392.60,118.84 L392.80,118.95 L393.00,119.05 L393.20,119.16 L393.40,119.27 L393.60,119.38 L393.80,119.49 L394.00,119.59 L394.20,119.70 L394.40,119.81 L394.60,119.92 L394.80,120.03 L395.00,120.13 L395.20,120.24 L395.40,120.35 L395.60,120.46 L395.80,120.56 L396.00,120.67 L396.20,120.78 L396.40,120.88 L396.60,120.99 L396.80,121.10 L397.00,121.20 L397.20,121.31 L397.40,121.42 L397.60,121.52 L397.80,121.63 L398.00,121.73 L398.20,121.84 L398.40,121.94 L398.60,122.05 L398.80,122.16 L399.00,122.26 L399.20,122.37 L399.40,122.49 L399.60,122.60 L399.80,122.72 L400.00,122.83 L400.20,122.94 L400.40,123.06 L400.60,123.17 L400.80,123.29 L401.00,123.40 L401.20,123.51 L401.40,123.63 L401.60,123.74 L401.80,123.86 L402.00,123.97" stroke="#0000ff" stroke-width="2.25" fill="none" stroke-linejoin="round"/>
<path d="M93.1,5.6V217.9" stroke="#000" stroke-width="1.9" fill="none"/>
</g>
<g stroke="#ff0000" stroke-width="1.9" fill="#ff0000"><path d="M196.25,51.20V60.20M193.35,51.20h5.80M193.35,60.20h5.80" fill="none"/><circle cx="196.25" cy="55.70" r="2.3" stroke="none"/></g>
<g stroke="#0000ff" stroke-width="1.9" fill="#0000ff"><path d="M255.50,57.60V67.00M252.60,57.60h5.80M252.60,67.00h5.80" fill="none"/><circle cx="255.50" cy="62.30" r="2.3" stroke="none"/></g>
<g stroke="#0000ff" stroke-width="1.9" fill="#0000ff"><path d="M319.10,66.35V82.55M316.20,66.35h5.80M316.20,82.55h5.80" fill="none"/><circle cx="319.10" cy="74.45" r="2.3" stroke="none"/></g>
<text x="93.00" y="231.6" text-anchor="middle">0.00</text>
<text x="157.40" y="231.6" text-anchor="middle">0.05</text>
<text x="221.80" y="231.6" text-anchor="middle">0.10</text>
<text x="286.20" y="231.6" text-anchor="middle">0.15</text>
<text x="350.60" y="231.6" text-anchor="middle">0.20</text>
<text x="57.4" y="221.05" text-anchor="end">0.90</text>
<text x="57.4" y="186.29" text-anchor="end">0.92</text>
<text x="57.4" y="151.53" text-anchor="end">0.94</text>
<text x="57.4" y="116.77" text-anchor="end">0.96</text>
<text x="57.4" y="82.01" text-anchor="end">0.98</text>
<text x="57.4" y="47.25" text-anchor="end">1.00</text>
<text x="57.4" y="12.49" text-anchor="end">1.02</text>
<g id="xlabel">
<text x="185.0" y="254.8" font-style="italic">m</text>
<text x="195.5" y="249.8" font-size="9.4">2</text>
<text x="195.7" y="258.8" font-size="10" font-style="italic">K</text>
<text x="203.5" y="255.5" font-size="11">&#8722;</text>
<text x="209.2" y="254.8" font-style="italic">m</text>
<text x="219.9" y="249.8" font-size="9.4">2</text>
<text x="220.2" y="258.8" font-size="10.4" font-style="italic">&#960;</text>
<text x="233.4" y="254.8">(GeV</text>
<text x="264.8" y="249.8" font-size="9.4">2</text>
<text x="270.7" y="254.8">)</text>
</g>
<g id="ylabel" transform="translate(20.0,125.2) rotate(-90)">
<text x="0" y="0" font-style="italic">f</text>
<text x="4.1" y="4.0" font-size="9.4">1</text>
<text x="4.4" y="-5.8" font-size="9.4">&#926;</text>
<text x="10.4" y="-9.1" font-size="6.5">0</text>
<text x="15.9" y="-5.8" font-size="9.4">&#931;</text>
<text x="21.4" y="-8.9" font-size="5">+</text>
</g>
</svg>
</body></html>
